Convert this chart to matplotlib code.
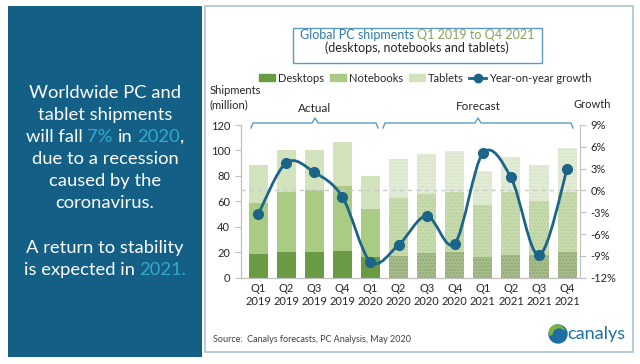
import matplotlib
matplotlib.use("Agg")
import matplotlib.pyplot as plt
from matplotlib.path import Path
from matplotlib.patches import PathPatch, Rectangle, Patch, Circle, Wedge
from matplotlib.lines import Line2D
import numpy as np

plt.rcParams['font.family'] = ['Lato', 'DejaVu Sans']

# data
quarters = ["Q1\n2019", "Q2\n2019", "Q3\n2019", "Q4\n2019",
            "Q1\n2020", "Q2\n2020", "Q3\n2020", "Q4\n2020",
            "Q1\n2021", "Q2\n2021", "Q3\n2021", "Q4\n2021"]
desktops = [18.3, 19.9, 19.9, 20.7, 16.0, 17.3, 19.1, 20.2, 16.5, 18.1, 18.1, 20.2]
notebooks = [40.1, 47.1, 49.0, 51.3, 38.0, 45.1, 46.4, 47.4, 40.9, 49.5, 42.2, 47.4]
tablets = [30.1, 33.6, 31.7, 34.9, 25.9, 30.6, 31.7, 31.7, 26.4, 27.2, 28.3, 34.3]
growth = [-3.3, 3.8, 2.5, -0.9, -9.8, -7.5, -3.5, -7.3, 5.1, 1.8, -8.9, 2.9]
n_actual = 5

W, H = 640, 364
fig = plt.figure(figsize=(6.4, 3.64), dpi=100)


def fx(x):
    return x / W


def fy(y):
    return 1 - y / H


# left blue panel and right frame
fig.add_artist(Rectangle((fx(8), fy(357)), fx(194), 351 / H, transform=fig.transFigure,
                         facecolor='#135f86', edgecolor='none'))
fig.add_artist(Rectangle((fx(205), fy(352)), fx(428), 346 / H, transform=fig.transFigure,
                         facecolor='none', edgecolor='#a9c4d4', lw=1.2))
fig.add_artist(Rectangle((fx(293), fy(63)), fx(249), 35 / H, transform=fig.transFigure,
                         facecolor='none', edgecolor='#5b9bc0', lw=1))

renderer = fig.canvas.get_renderer()


def rich_line(cx, y, parts, **kw):
    probe = fig.text(0, 0, "x x", **kw)
    probe2 = fig.text(0, 0, "xx", **kw)
    sp = probe.get_window_extent(renderer).width - probe2.get_window_extent(renderer).width
    probe.remove()
    probe2.remove()
    items = []
    total = 0
    for s, c in parts:
        lead = len(s) - len(s.lstrip(' '))
        trail = len(s) - len(s.rstrip(' '))
        t = fig.text(0, fy(y), s.strip(' '), color=c, va='center', ha='left', **kw)
        w = t.get_window_extent(renderer).width
        items.append((t, lead * sp, w, trail * sp))
        total += lead * sp + w + trail * sp
    x = cx - total / 2
    for t, l, w, r in items:
        x += l
        t.set_x(fx(x))
        x += w + r


white = 'white'
cyan = '#33a9cc'
panel_lines = [
    (93, [("Worldwide PC and", white)]),
    (115, [("tablet shipments", white)]),
    (137, [("will fall ", white), ("7%", cyan), (" in ", white), ("2020", cyan), (",", white)]),
    (159, [("due to a recession", white)]),
    (181, [("caused by the", white)]),
    (203, [("coronavirus.", white)]),
    (248, [("A return to stability", white)]),
    (270, [("is expected in ", white), ("2021.", cyan)]),
]
for y, parts in panel_lines:
    rich_line(105, y, parts, fontsize=13.2)

# title
rich_line(417, 35, [("Global PC shipments ", '#2b7aa6'), ("Q1 2019 to Q4 2021", '#86a45a')], fontsize=9)
fig.text(fx(417), fy(48), "(desktops, notebooks and tablets)", ha='center', va='center',
         fontsize=9, color='#262626')

# main axes
ax = fig.add_axes([fx(240.7), fy(277.7), (580 - 240.7) / W, (277.7 - 125) / H])
x = np.arange(len(quarters))
bw = 0.68
desk = np.array(desktops)
nb = np.array(notebooks)
tab = np.array(tablets)
a = slice(0, n_actual)
f = slice(n_actual, None)

ax.bar(x[a], desk[a], bw, color='#6b9a45', linewidth=0)
ax.bar(x[a], nb[a], bw, bottom=desk[a], color='#a9cb83', linewidth=0)
ax.bar(x[a], tab[a], bw, bottom=desk[a] + nb[a], color='#d2e3bd', linewidth=0)

ax.bar(x[f], desk[f], bw, color='#a7bd8c', edgecolor='#8ea872', hatch='.....', linewidth=0)
ax.bar(x[f], nb[f], bw, bottom=desk[f], color='#c8dcb0', edgecolor='#b6cf9a', hatch='.....', linewidth=0)
ax.bar(x[f], tab[f], bw, bottom=desk[f] + nb[f], color='#e3ecd7', edgecolor='#d6e3c6', hatch='.....', linewidth=0)

ax.set_xlim(-0.62, 11.46)
ax.set_ylim(0, 120)
ax.set_yticks(range(0, 121, 20))
ax.set_xticks(x)
ax.set_xticklabels(quarters, fontsize=8, color='#262626', linespacing=1.15)
ax.tick_params(axis='x', length=0, pad=4)
ax.tick_params(axis='y', labelsize=8, colors='#262626', length=4, color='#bfbfbf', direction='out')

ax2 = ax.twinx()
ax2.set_ylim(-12, 9)
ax2.set_yticks(range(-12, 10, 3))
ax2.set_yticklabels([f"{v}%" for v in range(-12, 10, 3)])
ax2.tick_params(axis='y', labelsize=8, colors='#262626', length=4, color='#bfbfbf', direction='out')
for a_ in (ax, ax2):
    a_.spines['top'].set_visible(False)
    for s in ('left', 'right', 'bottom'):
        a_.spines[s].set_color('#bfbfbf')
ax.spines['right'].set_visible(False)

ax2.axhline(0, color='#c8c8c8', ls=(0, (3, 3)), lw=1, zorder=1)

# smoothed growth line (Bezier through the data points)
P = np.column_stack([x, growth]).astype(float)
n = len(P)
verts = [tuple(P[0])]
codes = [Path.MOVETO]
for i in range(n - 1):
    p_prev = P[i - 1] if i > 0 else P[i]
    p_next = P[i + 2] if i + 2 < n else P[i + 1]
    c1 = P[i] + (P[i + 1] - p_prev) / 6
    c2 = P[i + 1] - (p_next - P[i]) / 6
    verts += [tuple(c1), tuple(c2), tuple(P[i + 1])]
    codes += [Path.CURVE4] * 3
line_col = '#1c6488'
ax2.add_patch(PathPatch(Path(verts, codes), fill=False, edgecolor=line_col, lw=2, zorder=3))
ax2.plot(x, growth, 'o', color=line_col, ms=7, zorder=4)

# legend
handles = [Patch(color='#6b9a45'), Patch(color='#a9cb83'), Patch(color='#d2e3bd'),
           Line2D([], [], color=line_col, lw=2, marker='o', ms=6)]
labels = ["Desktops", "Notebooks", "Tablets", "Year-on-year growth"]
fig.legend(handles, labels, loc='center', bbox_to_anchor=(fx(425), fy(78)), ncol=4,
           frameon=False, fontsize=8, handlelength=1.5, handleheight=0.6,
           handletextpad=0.25, columnspacing=0.5, labelcolor='#262626')

# axis captions
fig.text(fx(210), fy(91), "Shipments", fontsize=8, va='center', color='#262626')
fig.text(fx(210), fy(105), "(million)", fontsize=8, va='center', color='#262626')
fig.text(fx(592), fy(105), "Growth", fontsize=8, va='center', ha='center', color='#262626')
fig.text(fx(315), fy(108), "Actual", fontsize=8.5, va='center', ha='center', color='#262626')
fig.text(fx(478), fy(107), "Forecast", fontsize=8.5, va='center', ha='center', color='#262626')

# braces
brace_col = '#5b9bc0'
for x0, xm, x1 in [(251, 315, 378), (383, 478, 573)]:
    bx = [x0, x0 + 2, xm - 3, xm, xm + 3, x1 - 2, x1]
    by = [128, 123, 123, 118, 123, 123, 128]
    fig.add_artist(Line2D([fx(v) for v in bx], [fy(v) for v in by],
                          transform=fig.transFigure, color=brace_col, lw=1))

# source and logo
fig.text(fx(213), fy(339), "Source:  Canalys forecasts, PC Analysis, May 2020",
         fontsize=6.5, va='center', color='#404040')
lax = fig.add_axes([fx(548), fy(344), 20 / W, 20 / H])
lax.set_xlim(-1, 1)
lax.set_ylim(-1, 1)
lax.set_aspect('equal')
lax.axis('off')
lax.add_patch(Circle((0, 0), 0.9, color='#1d6fa3'))
lax.add_patch(Wedge((-0.1, 0.15), 0.75, 20, 200, color='#7cb342'))
lax.add_patch(Circle((0.1, -0.05), 0.55, color='#1d6fa3'))
fig.text(fx(567), fy(334), "canalys", fontsize=13, va='center', color='#1f6fa0')

fig.savefig("out.png", dpi=100)
